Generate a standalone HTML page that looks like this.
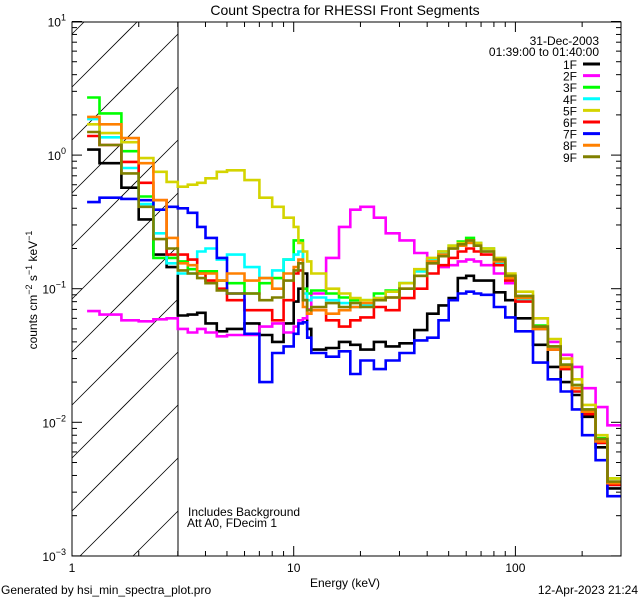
<!DOCTYPE html>
<html><head><meta charset="utf-8">
<style>
html,body{margin:0;padding:0;background:#fff;width:640px;height:600px;overflow:hidden;}
svg{display:block;overflow:hidden;font-family:"Liberation Sans",sans-serif;}
</style></head>
<body>
<svg id="chart" width="640" height="600" viewBox="0 0 640 600" xmlns="http://www.w3.org/2000/svg">
<defs><clipPath id="plotclip"><rect x="72" y="22" width="549" height="534"/></clipPath></defs>
<text x="345" y="15" font-size="14" text-anchor="middle">Count Spectra for RHESSI Front Segments</text>
<g id="hatch"></g>
<line x1="178" y1="22" x2="178" y2="556" stroke="#000" stroke-width="1"/>
<g id="series" clip-path="url(#plotclip)"></g>
<rect x="72" y="22" width="549" height="534" fill="none" stroke="#000" stroke-width="1"/>
<g id="axes"></g>
<text transform="translate(37,290) rotate(-90)" font-size="12" text-anchor="middle">counts cm<tspan dy="-5" font-size="9">−2</tspan><tspan dy="5"> s</tspan><tspan dy="-5" font-size="9">−1</tspan><tspan dy="5"> keV</tspan><tspan dy="-5" font-size="9">−1</tspan></text>
<text x="345" y="587" font-size="12" text-anchor="middle">Energy (keV)</text>
<text x="599" y="45" font-size="12" text-anchor="end">31-Dec-2003</text>
<text x="599" y="56" font-size="12" text-anchor="end">01:39:00 to 01:40:00</text>
<g id="legend"></g>
<text x="188" y="516" font-size="12">Includes Background</text>
<text x="187" y="527" font-size="12">Att A0, FDecim 1</text>
<text x="1" y="594" font-size="12">Generated by hsi_min_spectra_plot.pro</text>
<text x="638" y="594" font-size="12" text-anchor="end">12-Apr-2023 21:24</text>
</svg>
<script>
const energyEdges=[1.17,1.33,1.67,2,2.33,2.67,3,3.33,3.67,4,4.5,5,6,7,8,9,10,10.5,11,11.5,12,14,16,18,20,23,26,30,35,40,45,50,55,60,65,70,80,90,100,120,140,160,180,200,230,260,300];
const seriesNames=["1F","2F","3F","4F","5F","6F","7F","8F","9F"];
const seriesColors=["#000000","#ff00ff","#00ff00","#00ffff","#d4d400","#ff0000","#0000ff","#ff8000","#808000"];
const s1F=[1.1,0.87,0.57,0.33,0.18,0.145,0.063,0.064,0.066,0.055,0.048,0.05,0.055,0.045,0.04,0.055,0.08,0.1,0.13,0.05,0.035,0.036,0.04,0.038,0.035,0.04,0.037,0.039,0.049,0.065,0.075,0.085,0.12,0.125,0.115,0.115,0.094,0.082,0.06,0.038,0.026,0.02,0.016,0.011,0.0065,0.0032];
const s2F=[0.068,0.064,0.058,0.057,0.059,0.06,0.05,0.047,0.05,0.047,0.044,0.045,0.045,0.052,0.055,0.047,0.052,0.058,0.06,0.07,0.092,0.17,0.29,0.39,0.41,0.34,0.26,0.23,0.185,0.155,0.145,0.15,0.16,0.165,0.16,0.15,0.13,0.11,0.088,0.06,0.04,0.032,0.026,0.018,0.013,0.0095];
const s3F=[2.7,2.05,1.07,0.49,0.17,0.17,0.16,0.14,0.135,0.135,0.115,0.11,0.092,0.11,0.12,0.165,0.23,0.23,0.1,0.092,0.097,0.092,0.086,0.082,0.082,0.092,0.097,0.11,0.135,0.165,0.19,0.21,0.225,0.24,0.22,0.2,0.165,0.125,0.088,0.053,0.037,0.027,0.019,0.0125,0.0076,0.0038];
const s4F=[1.86,1.36,0.8,0.43,0.26,0.155,0.13,0.13,0.19,0.2,0.165,0.18,0.145,0.12,0.137,0.165,0.18,0.19,0.092,0.082,0.086,0.082,0.078,0.073,0.075,0.085,0.095,0.11,0.135,0.165,0.185,0.2,0.215,0.225,0.21,0.19,0.155,0.12,0.082,0.05,0.035,0.025,0.017,0.0115,0.007,0.0034];
const s5F=[1.7,1.46,1.25,0.95,0.75,0.63,0.58,0.6,0.62,0.67,0.75,0.77,0.65,0.48,0.41,0.34,0.29,0.22,0.19,0.16,0.13,0.1,0.092,0.085,0.082,0.085,0.095,0.11,0.14,0.17,0.19,0.21,0.22,0.23,0.22,0.2,0.17,0.13,0.095,0.06,0.042,0.03,0.021,0.0135,0.008,0.0038];
const s6F=[1.39,1.19,0.89,0.62,0.46,0.18,0.18,0.165,0.13,0.115,0.1,0.082,0.069,0.069,0.058,0.082,0.13,0.137,0.082,0.065,0.069,0.058,0.052,0.058,0.061,0.073,0.069,0.085,0.1,0.13,0.15,0.17,0.19,0.2,0.19,0.18,0.15,0.115,0.08,0.05,0.035,0.025,0.017,0.0115,0.007,0.0034];
const s7F=[0.445,0.48,0.47,0.46,0.39,0.41,0.4,0.37,0.29,0.24,0.17,0.092,0.046,0.02,0.033,0.037,0.046,0.055,0.056,0.043,0.033,0.031,0.034,0.023,0.029,0.025,0.029,0.033,0.041,0.043,0.058,0.082,0.092,0.095,0.092,0.09,0.073,0.061,0.048,0.028,0.021,0.017,0.0125,0.008,0.0052,0.0028];
const s8F=[1.93,1.7,1.34,0.87,0.46,0.24,0.155,0.15,0.13,0.13,0.115,0.13,0.115,0.12,0.1,0.13,0.145,0.165,0.073,0.065,0.069,0.065,0.069,0.073,0.078,0.082,0.086,0.1,0.125,0.16,0.18,0.2,0.21,0.22,0.21,0.19,0.16,0.12,0.085,0.05,0.035,0.026,0.018,0.012,0.0072,0.0035];
const s9F=[1.49,1.19,0.73,0.41,0.235,0.2,0.137,0.13,0.12,0.11,0.097,0.092,0.092,0.082,0.086,0.115,0.137,0.155,0.082,0.069,0.073,0.078,0.073,0.078,0.073,0.082,0.086,0.1,0.125,0.155,0.175,0.2,0.215,0.23,0.21,0.19,0.165,0.125,0.088,0.052,0.037,0.027,0.019,0.0125,0.0075,0.0036];
const allSeries=[s1F,s2F,s3F,s4F,s5F,s6F,s7F,s8F,s9F];
const xTickLabels=["1","10","100"];
const yTickExps=["1","0","−1","−2","−3"];

const NS="http://www.w3.org/2000/svg";
const X0=72,XDEC=221.7,Y1=21.5,YDEC=133.6;
function xs(e){return X0+XDEC*Math.log10(e);}
function ys(v){return Y1+YDEC*(1-Math.log10(v));}
function mk(tag,attrs,parent){const el=document.createElementNS(NS,tag);for(const k in attrs)el.setAttribute(k,attrs[k]);parent.appendChild(el);return el;}

// hatch lines manually clipped to x[72,178], y[22,556]; line: y = y0 - (x-72)
const hatch=document.getElementById('hatch');
for(let y0=87-106;y0<=556+106;y0+=53){
  let xa=72,ya=y0;
  if(ya>556){xa=72+(ya-556);ya=556;}
  let xb=178,yb=y0-106;
  if(yb<22){xb=72+(y0-22);yb=22;}
  if(xa>=xb||xa>178||xb<72)continue;
  const ln=mk('line',{x1:xa,y1:ya,x2:xb,y2:yb,stroke:'#000','stroke-width':0.8},hatch);
  
  
}

// series
const sg=document.getElementById('series');
allSeries.forEach((vals,si)=>{
  let d='';
  vals.forEach((v,i)=>{
    const xa=xs(energyEdges[i]),xb=xs(energyEdges[i+1]),y=ys(v);
    d+=(i===0?'M':'L')+xa.toFixed(1)+','+y.toFixed(1)+'L'+xb.toFixed(1)+','+y.toFixed(1);
  });
  const p=mk('path',{d:d,fill:'none',stroke:seriesColors[si],'stroke-width':2.6,'stroke-linejoin':'miter'},sg);
  
  
});

// axes ticks
const ax=document.getElementById('axes');
for(let dec=0;dec<3;dec++){
  for(let m=1;m<=9;m++){
    const e=m*Math.pow(10,dec);const x=xs(e);if(x>621)continue;
    const L=m===1?10:5;
    const t1=mk('line',{x1:x,y1:556,x2:x,y2:556-L,stroke:'#000'},ax);
    
    
    const t2=mk('line',{x1:x,y1:22,x2:x,y2:22+L,stroke:'#000'},ax);
    
    
  }
}
xTickLabels.forEach((lab,i)=>{
  const t=mk('text',{x:xs(Math.pow(10,i)),y:572,'font-size':12,'text-anchor':'middle'},ax);
  t.textContent=lab;
  
  
});
for(let p=-3;p<=0;p++){
  for(let m=1;m<=10;m++){
    if(m===10&&p<0)continue;
    const v=m*Math.pow(10,p);const y=ys(v);
    const L=(m===1||m===10)?10:5;
    const a=mk('line',{x1:72,y1:y,x2:72+L,y2:y,stroke:'#000'},ax);
    
    
    const b=mk('line',{x1:621,y1:y,x2:621-L,y2:y,stroke:'#000'},ax);
    
    
  }
}
yTickExps.forEach((ex,i)=>{
  const y=ys(Math.pow(10,1-i));
  const t=mk('text',{x:66,y:y+5,'font-size':12,'text-anchor':'end'},ax);
  
  
  const a=document.createElementNS(NS,'tspan');a.textContent='10';t.appendChild(a);
  const b=document.createElementNS(NS,'tspan');b.setAttribute('dy','-6');b.setAttribute('font-size','9');b.textContent=ex;t.appendChild(b);
});

// legend
const lg=document.getElementById('legend');
seriesNames.forEach((n,i)=>{
  const y=64+i*11.6;
  const t=mk('text',{x:577,y:y+5,'font-size':12,'text-anchor':'end'},lg);
  t.textContent=n;
  
  
  const l=mk('line',{x1:583,y1:y,x2:600,y2:y,stroke:seriesColors[i],'stroke-width':3},lg);
  
  
});
</script>
</body></html>
